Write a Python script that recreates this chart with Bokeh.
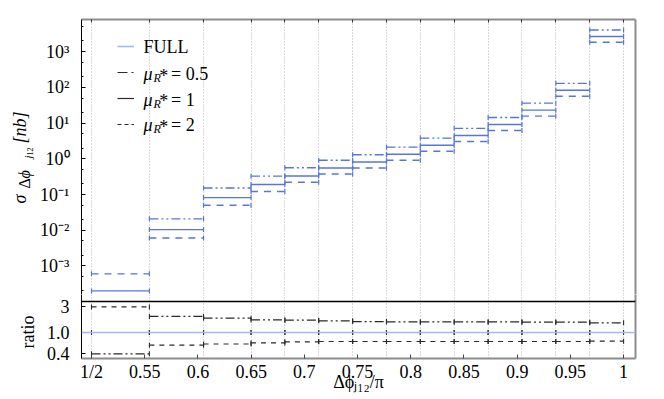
import numpy as np
from bokeh.plotting import figure
from bokeh.layouts import column, row
from bokeh.models import (Range1d, FixedTicker, CustomJSTickFormatter, LinearAxis,
                          Span, Label, Legend, LegendItem, Grid)
from bokeh.embed import file_html
from bokeh.resources import INLINE

# ---------------- data ----------------
# bin edges in units of pi
edges = [0.5, 0.5544, 0.6053, 0.6499, 0.6817, 0.7135, 0.7454, 0.7772,
         0.8090, 0.8408, 0.8727, 0.9045, 0.9363, 0.9682, 1.0]
# central cross section (mu_R* = 1) in nb per bin
sigma_mu1 = [2.0e-4, 1.04e-2, 0.082, 0.19, 0.33, 0.55, 0.81, 1.34,
             2.4, 4.5, 9.1, 23.0, 83.0, 2650.0]
# ratios to the central value
ratio_mu05 = [0.40, 2.00, 1.85, 1.72, 1.70, 1.65, 1.60, 1.58,
              1.58, 1.58, 1.58, 1.57, 1.56, 1.52]
ratio_mu2 = [3.00, 0.58, 0.61, 0.64, 0.67, 0.68, 0.68, 0.68,
             0.68, 0.68, 0.68, 0.68, 0.68, 0.69]
x_ticks = [0.5, 0.55, 0.6, 0.65, 0.7, 0.75, 0.8, 0.85, 0.9, 0.95, 1.0]
y_ticks = [1e-3, 1e-2, 1e-1, 1e0, 1e1, 1e2, 1e3]
ratio_ticks = [0.4, 1.0, 3.0]
ratio_panel_top = 3.8          # ratio value at the panel separator
legend_labels = ["FULL", "0.5", "1", "2"]

lo = edges[:-1]
hi = edges[1:]
sigma_mu05 = [c * r for c, r in zip(sigma_mu1, ratio_mu05)]
sigma_mu2 = [c * r for c, r in zip(sigma_mu1, ratio_mu2)]
ones = [1.0] * len(lo)

FONT = "Liberation Serif"
BLUE = "#5676da"
LIGHT = "#a6b7ef"
GRAY = "#8c8c8c"
DARK = "#2a2a2a"
DASHDOT = "9 3 2 3 2 3"
DASHED_MAIN = "7 6"
DASHED_RATIO = "5 5"


def lab(fig, text, x, y, size, italic=False, angle=0.0):
    fig.add_layout(Label(x=x, y=y, x_units="screen", y_units="screen", text=text,
                         text_font=FONT, text_font_size=f"{size}px",
                         text_font_style="italic" if italic else "normal",
                         text_color="black", text_align="left",
                         text_baseline="alphabetic", angle=angle))


def border_axis(ticks, tick_in):
    return LinearAxis(ticker=FixedTicker(ticks=ticks), major_tick_in=tick_in,
                      major_tick_out=0, minor_tick_in=0, minor_tick_out=0,
                      major_label_text_font_size="0px", major_label_text_color=None,
                      major_label_standoff=0, axis_line_color=GRAY,
                      axis_line_width=2, major_tick_line_color="#333333")


# ---------------- main panel ----------------
p = figure(width=617, height=294, x_range=Range1d(0.4906, 1.0112),
           y_range=Range1d(10 ** -3.8, 10 ** 3.9), y_axis_type="log",
           x_axis_location=None, output_backend="svg", toolbar_location=None,
           min_border_left=42, min_border_right=19, min_border_top=19,
           min_border_bottom=0)
p.outline_line_color = None
p.xgrid.visible = False
p.ygrid.visible = False
p.add_layout(Grid(dimension=0, ticker=FixedTicker(ticks=edges),
                  grid_line_color="#b5b5b5", grid_line_dash="1 2"))

ya = p.yaxis[0]
minor = [m * 10.0 ** k for k in range(-4, 4) for m in (2, 5)]
ya.ticker = FixedTicker(ticks=y_ticks, minor_ticks=minor)
ya.formatter = CustomJSTickFormatter(code="""
const e = Math.round(Math.log10(tick));
const sup = {'-':'\u207b','0':'\u2070','1':'\u00b9','2':'\u00b2','3':'\u00b3','4':'\u2074'};
return '10' + String(e).split('').map(c => sup[c]).join('');
""")
ya.axis_line_color = "black"
ya.major_tick_in = 4
ya.major_tick_out = 0
ya.minor_tick_in = 2
ya.minor_tick_out = 0
ya.major_tick_line_color = "black"
ya.minor_tick_line_color = "black"
ya.major_label_standoff = 12
ya.major_label_text_font = FONT
ya.major_label_text_font_size = "18px"
ya.major_label_text_color = "black"

p.add_layout(border_axis(edges, 3), "above")
p.add_layout(border_axis([], 0), "right")

for vals, dash in ((sigma_mu05, DASHDOT), (sigma_mu1, "solid"), (sigma_mu2, DASHED_MAIN)):
    p.segment(x0=lo, y0=vals, x1=hi, y1=vals, line_color=BLUE,
              line_width=1.4, line_dash=dash)
    p.scatter(x=lo + hi, y=vals + vals, marker="dash", angle=np.pi / 2,
              size=5, line_color=BLUE, line_width=1.2)

# legend samples (renderers without visible data)
nan = [float("nan")]
r_full = p.line(x=nan, y=nan, line_color=LIGHT, line_width=1.6)
r_05 = p.line(x=nan, y=nan, line_color=DARK, line_width=1.2, line_dash="10 4 2 4")
r_1 = p.line(x=nan, y=nan, line_color=DARK, line_width=1.2)
r_2 = p.line(x=nan, y=nan, line_color=DARK, line_width=1.2, line_dash="4 3")
legend = Legend(items=[LegendItem(label=" ", renderers=[r]) for r in (r_full, r_05, r_1, r_2)],
                location=(36, 157), orientation="vertical", padding=0, margin=0,
                spacing=0, glyph_width=17, glyph_height=26, label_height=26,
                label_width=1, label_standoff=0, label_text_font_size="1px",
                label_text_color=None, border_line_color=None,
                background_fill_color=None, background_fill_alpha=0)
p.add_layout(legend)

# legend texts (frame-relative screen coords)
lab(p, legend_labels[0], 62, 248, 18)
for i, t in enumerate(legend_labels[1:]):
    yb = 220.5 - i * 25.5
    lab(p, "\u03bc", 62, yb, 18, italic=True)
    lab(p, "R", 72, yb - 4, 12, italic=True)
    lab(p, "*", 77.7, yb - 1.5, 18)
    lab(p, "= " + t, 89.5, yb, 18)

# ---------------- ratio panel ----------------
r = figure(width=617, height=100, x_range=p.x_range, y_range=Range1d(0.327, 5.13),
           y_axis_type="log", output_backend="svg", toolbar_location=None,
           min_border_left=42, min_border_right=19, min_border_top=0,
           min_border_bottom=36)
r.outline_line_color = None
r.xgrid.visible = False
r.ygrid.visible = False
r.add_layout(Grid(dimension=0, ticker=FixedTicker(ticks=edges),
                  grid_line_color="#b5b5b5", grid_line_dash="1 2"))

xa = r.xaxis[0]
xa.ticker = FixedTicker(ticks=x_ticks, minor_ticks=[])
xa.formatter = CustomJSTickFormatter(code="""
if (Math.abs(tick - 0.5) < 1e-6) return "1/2";
if (Math.abs(tick - 1) < 1e-6) return "1";
let s = tick.toFixed(2);
if (s.endsWith("0")) s = s.slice(0, -1);
return s;
""")
xa.axis_line_color = GRAY
xa.axis_line_width = 2
xa.major_tick_in = 4
xa.major_tick_out = 0
xa.minor_tick_in = 0
xa.minor_tick_out = 0
xa.major_tick_line_color = "#444444"
xa.major_label_standoff = 3
xa.major_label_text_font = FONT
xa.major_label_text_font_size = "18px"
xa.major_label_text_color = "black"
xa.axis_label = "\u0394\u03d5\u2c7c\u2081\u2082/\u03c0"
xa.axis_label_text_font = FONT
xa.axis_label_text_font_size = "18px"
xa.axis_label_text_font_style = "normal"
xa.axis_label_text_color = "black"
xa.axis_label_standoff = -13

yr = r.yaxis[0]
yr.ticker = FixedTicker(ticks=ratio_ticks, minor_ticks=[])
yr.formatter = CustomJSTickFormatter(code="""
return Math.abs(tick - 1) < 1e-6 ? "1.0" : String(tick);
""")
yr.axis_line_color = "black"
yr.major_tick_in = 4
yr.major_tick_out = 0
yr.minor_tick_in = 0
yr.minor_tick_out = 0
yr.major_label_standoff = 12
yr.major_label_text_font = FONT
yr.major_label_text_font_size = "18px"
yr.major_label_text_color = "black"

r.add_layout(border_axis([], 0), "right")

r.add_layout(Span(location=ratio_panel_top, dimension="width", line_color="black",
                  line_width=1.3))
r.add_layout(Span(location=1.0, dimension="width", line_color=LIGHT, line_width=1.6))
for vals, dash in ((ratio_mu05, DASHDOT), (ones, "solid"), (ratio_mu2, DASHED_RATIO)):
    r.segment(x0=lo, y0=vals, x1=hi, y1=vals, line_color=DARK,
              line_width=1.2, line_dash=dash)
    r.scatter(x=lo + hi, y=vals + vals, marker="dash", angle=np.pi / 2,
              size=5, line_color=DARK, line_width=1.1)

# ---------------- y axis titles (left strip) ----------------
t = figure(width=37, height=394, x_range=Range1d(0, 1), y_range=Range1d(0, 1),
           x_axis_location=None, y_axis_location=None, output_backend="svg",
           toolbar_location=None, min_border=0)
t.outline_line_color = None
t.xgrid.visible = False
t.ygrid.visible = False
A = np.pi / 2
lab(t, "\u03c3", 19, 191, 18, italic=True, angle=A)
lab(t, "\u0394", 24, 206, 16, angle=A)
lab(t, "\u03d5", 24, 216, 16, italic=True, angle=A)
lab(t, "j", 27, 236, 11, italic=True, angle=A)
lab(t, "12", 29, 239, 8, angle=A)
lab(t, "[nb]", 19, 251, 18, italic=True, angle=A)
lab(t, "ratio", 27.5, 46, 18, angle=A)

layout = row(t, column(p, r, spacing=0), spacing=0)
with open("out.html", "w") as f:
    f.write(file_html(layout, INLINE))
